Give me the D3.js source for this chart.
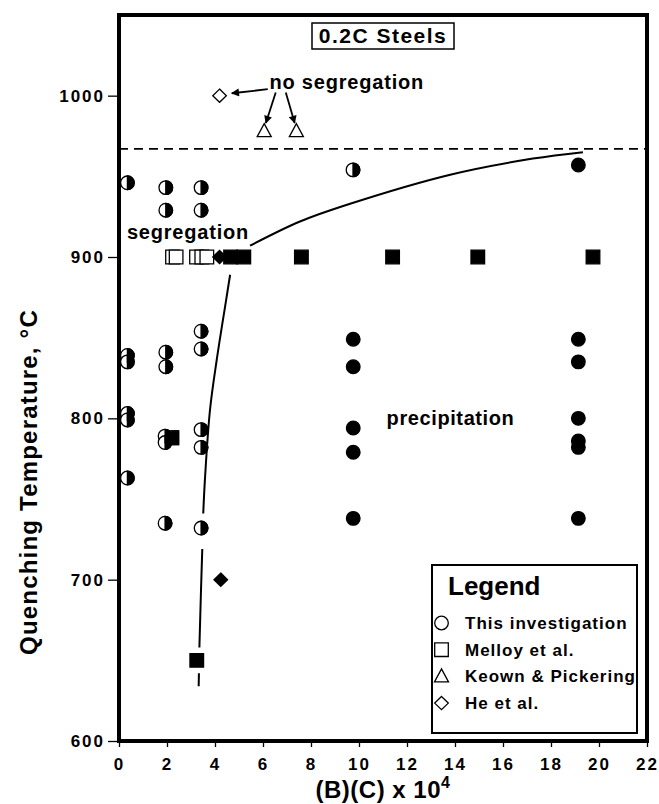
<!DOCTYPE html>
<html>
<head>
<meta charset="utf-8">
<title>0.2C Steels</title>
<style>
  body { margin: 0; background: #fff; }
  svg text { font-family: "Liberation Sans", Arial, sans-serif; font-weight: bold; fill: #000; }
</style>
</head>
<body>
<div id="chart"></div>
<script src="https://d3js.org/d3.v7.min.js"></script>
<script>

// ---- data: [ (B)(C) x 10^4 , quenching temperature in C ] ----
// This investigation, half filled = segregation
var halfCircles = [
  [0.35, 946], [0.35, 839], [0.35, 835], [0.35, 803], [0.35, 799], [0.35, 763],
  [1.95, 943], [1.95, 929], [1.95, 841], [1.95, 832], [1.92, 789], [1.92, 785], [1.92, 735],
  [3.42, 943], [3.42, 929], [3.42, 854], [3.42, 843], [3.42, 793], [3.42, 782], [3.42, 732],
  [9.75, 954]
];
// This investigation, filled = precipitation
var fullCircles = [
  [9.76, 849], [9.76, 832], [9.76, 794], [9.76, 779], [9.76, 738],
  [19.14, 957], [19.14, 849], [19.14, 835], [19.14, 800], [19.14, 786], [19.14, 782], [19.14, 738]
];
// Melloy et al.
var openSquares = [[2.23, 900], [2.38, 900], [3.23, 900], [3.45, 900], [3.66, 900]];
var halfSquares = [[2.2, 788]];
var fullSquares = [[3.24, 650], [4.65, 900], [5.2, 900], [7.6, 900], [11.4, 900], [14.95, 900], [19.75, 900]];
// Keown & Pickering
var openTriangles = [[6.05, 978], [7.39, 978]];
// He et al.
var openDiamonds = [[4.19, 1000]];
var fullDiamonds = [[4.19, 900], [4.24, 700]];

// hand drawn boundary (broken where it passes markers)
var curveSegments = [
  [[3.32, 634], [3.33, 642]],
  [[3.35, 658], [3.41, 690], [3.47, 719]],
  [[3.51, 741], [3.58, 762], [3.79, 805], [4.07, 836], [4.46, 873], [4.63, 889]],
  [[5.46, 907], [7.54, 922], [9.63, 933], [13.8, 951], [17.25, 961], [19.33, 965]]
];
var noSegLimit = 967;
var arrows = [
  [[6.2, 1004], [4.7, 1001.5]],
  [[6.53, 1002], [6.12, 983]],
  [[6.95, 1002], [7.32, 983]]
];

var xTicks = [0, 2, 4, 6, 8, 10, 12, 14, 16, 18, 20, 22];
var yTicks = [600, 700, 800, 900, 1000];
var legendLabels = ["This investigation", "Melloy et al.", "Keown & Pickering", "He et al."];
var legendShapes = ["circle", "square", "triangle", "diamond"];

// ---- layout ----
var width = 659, height = 804;
var x = d3.scaleLinear().domain([0, 22]).range([119, 647]);
var y = d3.scaleLinear().domain([600, 1050]).range([741, 15]);

var svg = d3.select("#chart").append("svg")
  .attr("width", width)
  .attr("height", height);

// marker outlines, centred on 0,0
function shape(kind) {
  var p = d3.path();
  if (kind == "circle") { p.arc(0, 0, 6.8, 0, 2 * Math.PI); p.closePath(); }
  else if (kind == "rightHalf") { p.moveTo(0, -6.8); p.arc(0, 0, 6.8, -Math.PI / 2, Math.PI / 2); p.closePath(); }
  else if (kind == "square") { p.rect(-6.8, -6.8, 13.6, 13.6); }
  else if (kind == "rightHalfSquare") { p.rect(0, -6.8, 6.8, 13.6); }
  else if (kind == "triangle") { p.moveTo(0, -7.5); p.lineTo(7, 5.5); p.lineTo(-7, 5.5); p.closePath(); }
  else if (kind == "diamond") { p.moveTo(0, -6.6); p.lineTo(6.8, 0); p.lineTo(0, 6.6); p.lineTo(-6.8, 0); p.closePath(); }
  return p.toString();
}

function drawMarks(data, kind, fill) {
  svg.append("g").selectAll("path")
    .data(data)
    .enter()
    .append("path")
      .attr("d", shape(kind))
      .attr("transform", function(d) { return "translate(" + x(d[0]) + "," + y(d[1]) + ")"; })
      .attr("fill", fill)
      .attr("stroke", "#000")
      .attr("stroke-width", 1.3);
}

// boundary curve
var line = d3.line()
  .x(function(d) { return x(d[0]); })
  .y(function(d) { return y(d[1]); })
  .curve(d3.curveCatmullRom);

svg.append("g").selectAll("path")
  .data(curveSegments)
  .enter()
  .append("path")
    .attr("d", line)
    .attr("fill", "none")
    .attr("stroke", "#000")
    .attr("stroke-width", 2);

// dashed no-segregation limit
svg.append("line")
  .attr("x1", x(0)).attr("x2", x(22))
  .attr("y1", y(noSegLimit)).attr("y2", y(noSegLimit))
  .attr("stroke", "#000")
  .attr("stroke-width", 1.6)
  .attr("stroke-dasharray", "9,6");

// markers
drawMarks(halfSquares, "square", "#fff");
drawMarks(halfSquares, "rightHalfSquare", "#000");
drawMarks(openSquares, "square", "#fff");
drawMarks(fullDiamonds, "diamond", "#000");
drawMarks(fullSquares, "square", "#000");
drawMarks(halfCircles, "circle", "#fff");
drawMarks(halfCircles, "rightHalf", "#000");
drawMarks(fullCircles, "circle", "#000");
drawMarks(openTriangles, "triangle", "#fff");
drawMarks(openDiamonds, "diamond", "#fff");

// arrows
svg.append("defs").append("marker")
  .attr("id", "head")
  .attr("viewBox", "0 0 10 10")
  .attr("refX", 9).attr("refY", 5)
  .attr("markerWidth", 11).attr("markerHeight", 8)
  .attr("markerUnits", "userSpaceOnUse")
  .attr("orient", "auto")
  .append("path")
    .attr("d", "M0,0 L10,5 L0,10 Z")
    .attr("fill", "#000");

svg.append("g").selectAll("line")
  .data(arrows)
  .enter()
  .append("line")
    .attr("x1", function(d) { return x(d[0][0]); })
    .attr("y1", function(d) { return y(d[0][1]); })
    .attr("x2", function(d) { return x(d[1][0]); })
    .attr("y2", function(d) { return y(d[1][1]); })
    .attr("stroke", "#000")
    .attr("stroke-width", 1.8)
    .attr("marker-end", "url(#head)");

// region labels
svg.append("text").attr("x", x(6.27)).attr("y", y(1004))
  .style("font-size", "20px").style("letter-spacing", "0.8px")
  .text("no segregation");
svg.append("text").attr("x", x(0.33)).attr("y", y(911))
  .style("font-size", "20px").style("letter-spacing", "0.8px")
  .text("segregation");
svg.append("text").attr("x", x(11.15)).attr("y", y(796))
  .style("font-size", "20px").style("letter-spacing", "0.6px")
  .text("precipitation");

// title box
svg.append("rect")
  .attr("x", 312).attr("y", 23).attr("width", 142).attr("height", 26)
  .attr("fill", "#fff").attr("stroke", "#000").attr("stroke-width", 1.5);
svg.append("text").attr("x", 383).attr("y", 43)
  .attr("text-anchor", "middle")
  .style("font-size", "21px").style("letter-spacing", "1.5px")
  .text("0.2C Steels");

// legend
var legend = svg.append("g");
legend.append("rect")
  .attr("x", 432).attr("y", 565).attr("width", 205).attr("height", 168)
  .attr("fill", "#fff").attr("stroke", "#000").attr("stroke-width", 2);
legend.append("text").attr("x", 448).attr("y", 595)
  .style("font-size", "26px")
  .text("Legend");
var rows = legend.selectAll("g.row")
  .data(legendLabels)
  .enter()
  .append("g")
    .attr("class", "row")
    .attr("transform", function(d, i) { return "translate(441.5," + (623 + i * 26.7) + ")"; });
rows.append("path")
  .attr("d", function(d, i) { return shape(legendShapes[i]); })
  .attr("fill", "#fff")
  .attr("stroke", "#000")
  .attr("stroke-width", 1.3);
rows.append("text")
  .attr("x", 23.5).attr("y", 6)
  .style("font-size", "17px").style("letter-spacing", "1px")
  .text(function(d) { return d; });

// axes
var yAxis = svg.append("g")
  .attr("transform", "translate(" + x(0) + ",0)")
  .call(d3.axisLeft(y).tickValues(yTicks).tickFormat(d3.format("d")).tickSize(11).tickPadding(3));
var xAxis = svg.append("g")
  .attr("transform", "translate(0," + y(600) + ")")
  .call(d3.axisBottom(x).tickValues(xTicks).tickFormat(d3.format("d")).tickSize(6).tickPadding(11));
[yAxis, xAxis].forEach(function(a) {
  a.select(".domain").remove();
  a.selectAll("line").attr("stroke", "#000").attr("stroke-width", 1.3);
  a.selectAll("text")
    .attr("fill", "#000")
    .style("font-family", "'Liberation Sans', Arial, sans-serif")
    .style("font-weight", "bold")
    .style("font-size", "17px")
    .style("letter-spacing", "2px");
});

// frame
svg.append("rect")
  .attr("x", x(0)).attr("y", y(1050))
  .attr("width", x(22) - x(0)).attr("height", y(600) - y(1050))
  .attr("fill", "none").attr("stroke", "#000").attr("stroke-width", 4);

// axis titles
var xt = svg.append("text")
  .attr("x", (x(0) + x(22)) / 2).attr("y", 798)
  .attr("text-anchor", "middle")
  .style("font-size", "24px").style("letter-spacing", "0.5px");
xt.append("tspan").text("(B)(C) x 10");
xt.append("tspan").attr("dy", -10).style("font-size", "16px").text("4");

svg.append("text")
  .attr("transform", "translate(37,482) rotate(-90)")
  .attr("text-anchor", "middle")
  .style("font-size", "24px").style("letter-spacing", "1.2px")
  .text("Quenching Temperature, \u00B0C");

</script>
</body>
</html>
